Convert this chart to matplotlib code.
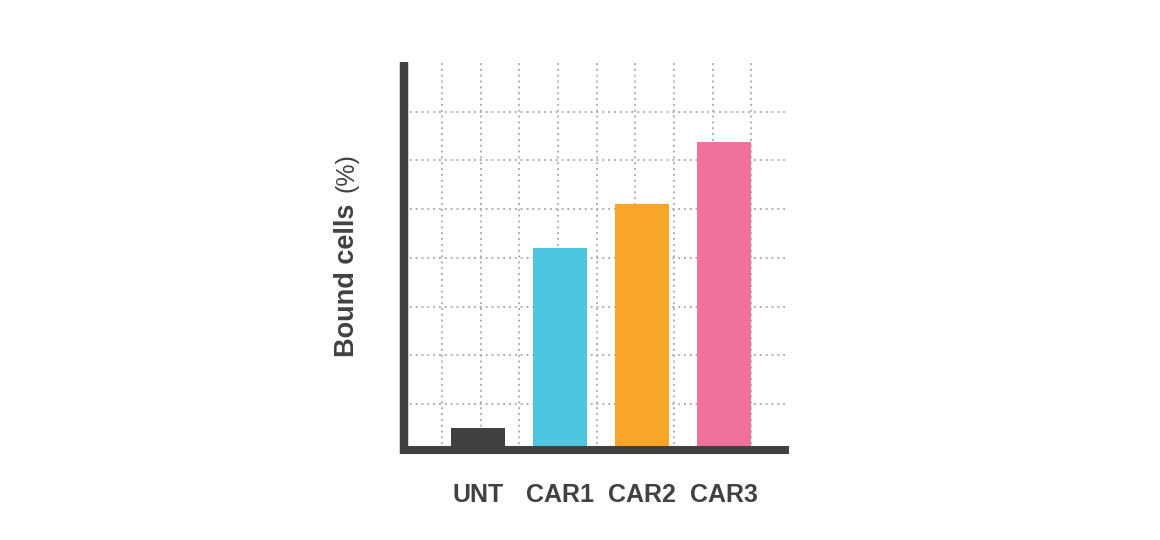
import numpy as np
import matplotlib.pyplot as plt

groups = ['UNT', 'CAR1', 'CAR2', 'CAR3']
bound = [0.446, 4.15, 5.05, 6.32]
colors = ['#414042', '#4fc6df', '#f7a629', '#ef729d']

dark = '#414042'
plt.rcParams['font.family'] = 'Liberation Sans'

fig = plt.figure(figsize=(11.6, 5.4), dpi=100)
ax = fig.add_axes([403.5 / 1160, 1 - 450 / 540, (789 - 403.5) / 1160, (450 - 61.7) / 540])

x = np.arange(len(groups))
ax.bar(x, bound, width=0.67, color=colors, zorder=2)

ax.set_xlim(-0.909, 3.793)
ax.set_ylim(0, 7.97)

# dotted grid
ax.set_xticks(x)
ax.set_xticklabels(groups, fontsize=18, fontweight='bold', color=dark)
ax.set_xticks(-0.439 + 0.4715 * np.arange(9), minor=True)
ax.set_yticks(0.945 + np.arange(7))
ax.set_yticklabels([])
ax.tick_params(which='both', length=0)
ax.tick_params(axis='x', pad=24)
grid_style = dict(color='#afafaf', linewidth=1.4, linestyle=(0, (1, 2.0)), zorder=1)
ax.grid(axis='x', which='minor', **grid_style)
ax.grid(axis='y', which='major', **grid_style)

for s in ['top', 'right']:
    ax.spines[s].set_visible(False)
ax.spines['left'].set_linewidth(6.1)
ax.spines['bottom'].set_linewidth(5.8)
for s in ['left', 'bottom']:
    ax.spines[s].set_color(dark)
    ax.spines[s].set_zorder(3)
    ax.spines[s].set_capstyle('butt')
ax.spines['left'].set_bounds(-0.082, 7.97)

fig.text(347 / 1160, 1 - 357 / 540, 'Bound cells', rotation=90, ha='center', va='bottom',
         fontsize=19.5, fontweight='bold', color=dark)
fig.text(347 / 1160, 1 - 153 / 540, '(%)', rotation=90, ha='center', va='top',
         fontsize=18, color=dark)

fig.savefig('out.png', dpi=100)
